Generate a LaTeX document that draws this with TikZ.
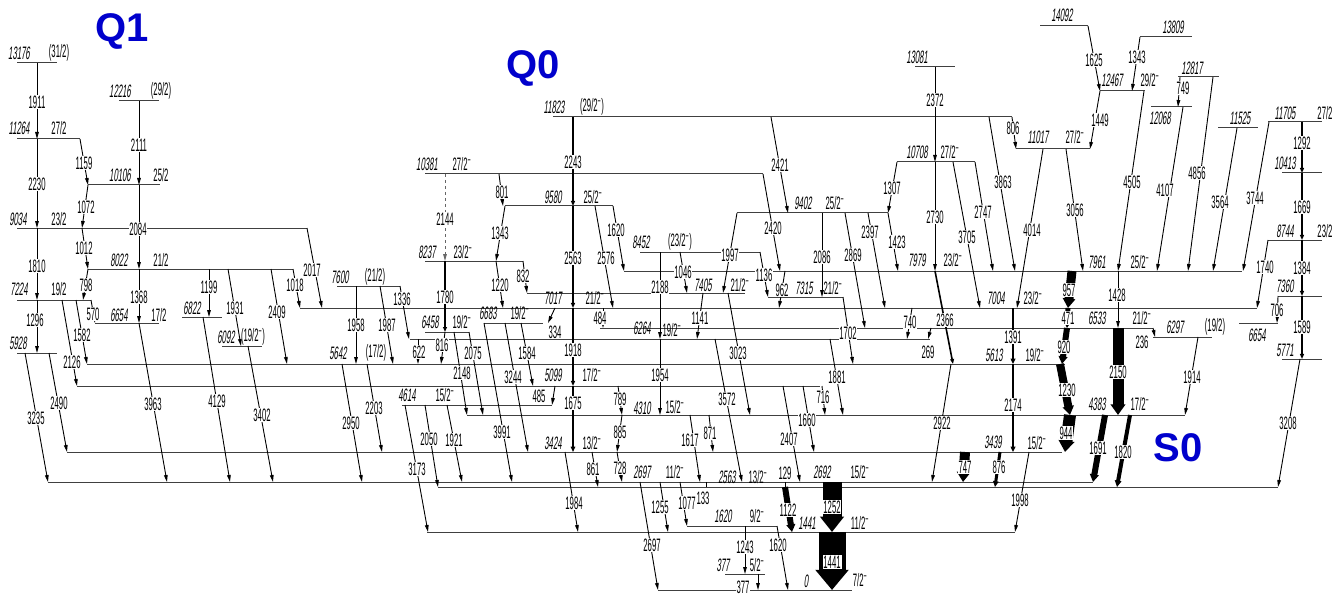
\documentclass[tikz,border=0pt]{standalone}
\usepackage{fontspec}
\setmainfont{Liberation Sans}
\newfontfamily\lf[FakeStretch=0.43]{Liberation Sans}
\newfontfamily\elf[FakeStretch=0.43,FakeSlant=0.12]{Liberation Sans}
\newfontfamily\bigf{Liberation Sans}
\usetikzlibrary{arrows.meta}
\definecolor{qblue}{RGB}{0,0,204}
\newcommand\mneg{\textsuperscript{\char"2212}}
\pgfdeclarelayer{fg}
\pgfsetlayers{main,fg}
\begin{document}
\begin{tikzpicture}[x=1pt,y=-1pt,
  lvl/.style={line width=1pt, black!75},
  tr/.style={line width=0.9pt, -{Triangle[length=7pt,width=3.6pt]}},
  tk/.style={line width=#1, -{Triangle[length=4pt 0.6,width=2pt 1.12]}},
  tl/.style={font=\lf\fontsize{18}{18}\selectfont, fill=white, inner sep=0.5pt},
  el/.style={font=\elf\fontsize{18}{18}\selectfont, inner sep=0pt},
  sl/.style={font=\lf\fontsize{18}{18}\selectfont, inner sep=0pt},
  big/.style={font=\bigf\bfseries\fontsize{40}{40}\selectfont, text=qblue}]
\fill[white] (0,0) rectangle (1338,596);
\useasboundingbox (0,0) rectangle (1338,596);
% levels
\foreach \y/\xa/\xb in {63/17/57, 101/119/159, 139/17/80, 185/88/160, 228/17/307, 269/88/293, 300/17/91, 323/95/159, 353/17/57, 317/182/222, 346/222/262, 286/337/400, 117/553/1012, 174/425/763, 206/505/613, 261/425/523, 252/640/760, 293/527/745, 308/300/1257, 323/484/543, 332/425/469, 339/410/930, 328/600/1153, 364/87/1065, 386/77/820, 405/402/552, 415/467/1185, 452/67/1062, 482/48/1093, 487/438/1278, 526/687/777, 532/427/1015, 574/725/765, 590/658/852, 67/915/955, 162/897/975, 213/737/888, 271/624/1242, 297/768/843, 26/1040/1088, 37/1140/1192, 91/1100/1145, 149/1016/1090, 77/1178/1219, 107/1151/1192, 128/1218/1258, 122/1268/1322, 173/1282/1322, 240/1268/1322, 296/1278/1322, 323/1239/1278, 359/1282/1322, 337/1153/1212}
  {\draw[lvl] (\xa,\y) -- (\xb,\y);}
% thin transitions
\foreach \xa/\ya/\xb/\yb/\t/\lx/\ly in {37/63/37/139/1911/37/102, 80/139/88/185/1159/84/163, 139/101/139/185/2111/139/145, 37/139/37/228/2230/37/184, 88/185/82/228/1072/86/207, 139/185/139/269/2084/138/229, 37/228/37/300/1810/37/266, 82/228/88/269/1012/84/248, 307/228/322/308/2017/312/270, 88/269/83/300/798/86/285, 37/300/37/353/1296/35/320, 91/300/95/323/570/93/314, 76/300/87/364/1582/82/335, 62/300/77/386/2126/72/362, 139/269/139/323/1368/139/297, 209/269/209/317/1199/209/287, 228/269/241/346/1931/235/308, 271/269/287/364/2409/277/312, 293/269/300/308/1018/295/285, 25/353/48/482/3235/36/418, 49/353/67/452/2490/59/403, 139/323/167/482/3963/153/404, 203/317/230/482/4129/217/401, 248/346/273/482/3402/262/415, 356/286/356/364/1958/356/325, 380/286/393/364/1987/387/325, 400/286/409/339/1336/402/299, 342/364/362/482/2950/351/423, 367/364/382/452/2203/374/408, 418/339/418/364/622/419/352, 445/332/441/364/816/442/345, 499/174/503/206/801/502/192, 505/206/496/261/1343/500/233, 523/261/527/293/832/523/276, 496/261/503/308/1220/500/285, 595/206/613/308/2576/606/258, 613/206/624/271/1620/616/230, 555/308/548/323/334/555/332, 603/308/603/328/484/600/318, 454/332/467/415/2148/462/373, 469/332/483/415/2075/473/353, 484/323/512/482/3991/502/432, 505/323/528/452/3244/513/377, 521/323/533/386/1584/527/353, 555/386/552/405/485/539/396, 618/386/622/415/789/620/399, 622/415/617/452/885/620/432, 405/405/428/532/3173/417/469, 425/405/438/487/2050/429/439, 447/405/462/482/1921/454/440, 565/452/578/532/1984/574/503, 592/452/598/487/861/593/469, 617/452/622/482/728/620/468, 640/482/658/590/2697/652/545, 660/252/660/339/2188/660/287, 660/339/660/415/1954/660/375, 680/252/687/293/1046/683/272, 703/293/697/339/1141/700/318, 728/293/750/415/3023/738/353, 715/339/742/482/3572/727/399, 690/415/700/482/1617/690/440, 709/415/713/452/871/710/433, 660/482/668/532/1255/660/507, 680/482/687/526/1077/687/503, 745/526/745/574/1243/745/547, 777/526/788/590/1620/778/545, 758/574/758/590/377/743/587, 737/213/723/293/1997/730/255, 771/117/788/213/2421/780/165, 763/174/780/271/2420/773/228, 760/252/768/297/1136/764/275, 785/271/779/308/962/782/290, 822/213/822/297/2086/822/257, 845/213/865/328/2869/853/255, 868/213/885/308/2397/870/232, 888/213/898/271/1423/897/242, 897/162/888/213/1307/892/188, 843/297/853/364/1702/848/333, 912/308/907/339/740/910/322, 931/328/928/339/269/928/352, 830/339/843/415/1881/837/377, 783/386/800/482/2407/789/439, 803/386/814/452/1660/807/420, 822/386/825/415/716/823/397, 951/364/932/482/2922/942/423, 935/67/935/162/2372/935/100, 935/162/935/271/2730/935/217, 953/162/980/308/3705/967/237, 975/162/993/271/2747/983/212, 989/117/1015/271/3863/1003/182, 1012/117/1016/149/806/1013/128, 1088/26/1100/91/1625/1094/60, 1140/37/1132/91/1343/1137/57, 1100/91/1090/149/1449/1100/120, 1043/149/1017/308/4014/1032/230, 1066/149/1083/271/3056/1075/210, 1144/91/1118/271/4505/1132/182, 1180/77/1178/107/749/1183/88, 1183/107/1157/271/4107/1165/190, 1213/77/1188/271/4856/1197/173, 1237/128/1213/271/3564/1220/202, 1269/122/1243/271/3744/1255/198, 1268/240/1257/308/1740/1265/267, 1278/296/1277/323/706/1277/310, 1300/359/1278/487/3208/1288/423, 1118/271/1118/328/1428/1117/295, 1153/328/1155/337/236/1142/342, 1198/337/1185/415/1914/1192/377, 1029/452/1015/532/1998/1020/500}
  {\draw[tr] (\xa,\ya) -- (\xb,\yb);
   \begin{pgfonlayer}{fg}\node[tl] (t\t) at (\lx,\ly) {\t};\end{pgfonlayer}}
% short ones without tips
\foreach \xa/\ya/\xb/\yb/\t/\lx/\ly in {706/482/706/487/133/703/498, 785/482/785/487/129/785/473}
  {\draw[line width=0.9pt] (\xa,\ya) -- (\xb,\yb);
   \begin{pgfonlayer}{fg}\node[tl] (t\t) at (\lx,\ly) {\t};\end{pgfonlayer}}
% dashed
\draw[tr, dashed, black!60] (445,174) -- (445,261);
\begin{pgfonlayer}{fg}\node[tl] (t2144) at (445,219) {2144};\end{pgfonlayer}
% thick transitions
\foreach \xa/\ya/\xb/\yb/\t/\lx/\ly/\w in {573/117/573/206/2243/573/162/1.8, 573/206/573/308/2563/573/258/1.8, 573/308/573/386/1918/573/350/1.8, 573/386/573/452/1675/573/403/2.2, 445/261/445/332/1780/445/297/1.6, 935/271/953/364/2366/945/320/1.6, 1013/308/1013/364/1391/1013/337/2.5, 1013/364/1013/452/2174/1013/405/2.5, 1302/122/1302/173/1292/1302/143/1.8, 1302/173/1302/240/1669/1302/207/1.8, 1302/240/1302/296/1384/1302/268/1.8, 1302/296/1302/359/1589/1302/327/1.8, 1072/271/1068/308/957/1069/290/9, 1068/308/1067/328/471/1068/318/5, 1067/328/1062/364/920/1064/347/6, 1060/364/1070/415/1230/1067/390/8, 1070/415/1065/452/944/1066/433/12, 1118/328/1118/415/2150/1118/372/11, 1105/415/1093/482/1691/1098/448/6, 1130/415/1117/487/1820/1123/452/4, 965/452/963/482/747/965/467/10, 1000/452/995/487/876/999/467/3, 785/487/792/532/1122/788/510/6, 832/482/832/532/1252/832/507/19}
  {\draw[tk=\w pt] (\xa,\ya) -- (\xb,\yb);
   \begin{pgfonlayer}{fg}\node[tl] (k\t) at (\lx,\ly) {\t};\end{pgfonlayer}}
\draw[tk=27pt] (832,532) -- (832,590);
\begin{pgfonlayer}{fg}\node[tl, draw, inner sep=1.5pt] (k1441) at (832,562) {1441};\end{pgfonlayer}
% energy labels
\foreach \x/\y/\t in {19/53/13176, 19/128/11264, 120/91/12216, 120/175/10106, 18/219/9034, 119/260/8022, 19/289/7224, 119/315/6654, 18/343/5928, 192/308/6822, 226/337/6092, 340/277/7600, 338/353/5642, 430/322/6458, 488/313/6683, 554/107/11823, 427/164/10381, 553/197/9580, 427/252/8237, 641/242/8452, 553/298/7017, 703/285/7405, 642/328/6264, 553/375/5099, 407/395/4614, 642/408/4310, 553/443/3424, 642/472/2697, 727/477/2563, 822/472/2692, 723/516/1620, 807/523/1441, 723/565/377, 806/581/0, 917/57/13081, 917/152/10708, 803/203/9402, 917/260/7979, 804/288/7315, 996/298/7004, 994/355/5613, 993/442/3439, 1097/404/4383, 1097/318/6533, 1097/262/7961, 1175/327/6297, 1062/15/14092, 1173/27/13809, 1112/80/12467, 1038/137/11017, 1192/68/12817, 1160/118/12068, 1240/118/11525, 1285/113/11705, 1285/163/10413, 1285/231/8744, 1285/286/7360, 1257/335/6654, 1285/350/5771}
  {\node[el] (e\t) at (\x,\y) {\t};}
% spin labels
\foreach \x/\y/\t [count=\i] in {59/53/{(31/2)}, 59/128/{27/2}, 161/91/{(29/2)}, 161/175/{25/2}, 59/219/{23/2}, 161/260/{21/2}, 59/289/{19/2}, 159/315/{17/2}, 253/337/{(19/2\mneg)}, 375/277/{(21/2)}, 376/353/{(17/2)}, 462/322/{19/2\mneg}, 520/313/{19/2\mneg}, 592/107/{(29/2\mneg)}, 462/164/{27/2\mneg}, 593/197/{25/2\mneg}, 463/252/{23/2\mneg}, 680/242/{(23/2\mneg)}, 595/298/{21/2\mneg}, 740/285/{21/2\mneg}, 672/330/{19/2\mneg}, 592/375/{17/2\mneg}, 445/395/{15/2\mneg}, 675/407/{15/2\mneg}, 592/443/{13/2\mneg}, 675/472/{11/2\mneg}, 758/477/{13/2\mneg}, 860/472/{15/2\mneg}, 757/516/{9/2\mneg}, 860/523/{11/2\mneg}, 757/565/{5/2\mneg}, 860/580/{7/2\mneg}, 950/152/{27/2\mneg}, 835/203/{25/2\mneg}, 953/260/{23/2\mneg}, 833/288/{21/2\mneg}, 1033/298/{23/2\mneg}, 1035/355/{19/2\mneg}, 1037/443/{15/2\mneg}, 1140/404/{17/2\mneg}, 1142/318/{21/2\mneg}, 1140/262/{25/2\mneg}, 1215/327/{(19/2)}, 1150/80/{29/2\mneg}, 1075/137/{27/2\mneg}, 1325/113/{27/2}, 1325/231/{23/2}}
  {\node[sl] (s\i) at (\x,\y) {\t};}
% band names
\node[big] (q1) at (122,31) {Q1};
\node[big] (q0) at (533,68) {Q0};
\node[big] (s0) at (1178,448) {S0};
\end{tikzpicture}
\end{document}
